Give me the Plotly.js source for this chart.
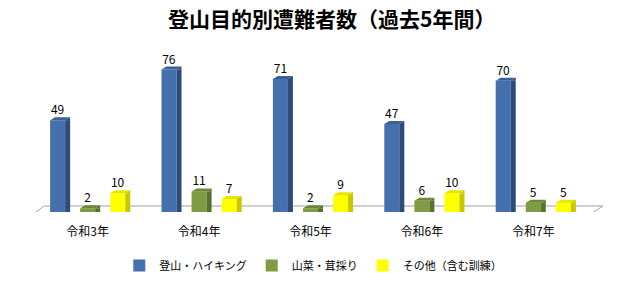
<!DOCTYPE html>
<html><head><meta charset="utf-8">
<script src="https://cdn.plot.ly/plotly-3.0.1.min.js"></script>
<style>html,body{margin:0;padding:0;background:#fff}#c{width:638px;height:281px}</style>
</head><body><div id="c"></div>
<script>
const categories = ["令和3年","令和4年","令和5年","令和6年","令和7年"];
const seriesNames = ["登山・ハイキング","山菜・茸採り","その他（含む訓練）"];
const hiking = [49,76,71,47,70];
const sansai = [2,11,2,6,5];
const other = [10,7,9,10,5];
const titleText = "登山目的別遭難者数（過去5年間）";

const values = [hiking, sansai, other];
const front = ["#4470ad","#7f9c42","#ffff00"];
const side = ["#2c4b78","#5a7030","#c8c800"];
const topc = ["#3a5f96","#6d8838","#e6e600"];
const font = "'Noto Sans CJK JP', sans-serif";

const slot = 0.27, barW = 0.135;
const traces = values.map((v,j)=>({
  type:"bar", x:categories.map((c,i)=>i), y:v, name:seriesNames[j],
  width:barW, offset:(j-1)*slot - barW/2,
  marker:{color:front[j]}, text:v.map(String), textposition:"outside",
  textfont:{family:font,size:12,color:"#000"}, cliponaxis:false, hoverinfo:"none"
}));

const shapes = [];
// floor
shapes.push({type:"path", xref:"paper", yref:"y", ysizemode:"pixel", yanchor:0, layer:"below",
  path:"M0,-3 L1,-3 L1.025,6 L0.022,6 Z", line:{color:"#a0a0a0",width:1}, fillcolor:"#ffffff"});
const dx=5, dy=3, hw=7.5;
values.forEach((v,j)=>{
  v.forEach((val,i)=>{
    const xc = i + (j-1)*slot;
    shapes.push({type:"rect", xref:"x", yref:"y", xsizemode:"pixel", xanchor:xc,
      x0:hw, x1:hw+dx, y0:0, y1:val, fillcolor:side[j], line:{width:0}, layer:"above"});
    shapes.push({type:"path", xref:"x", yref:"y", xsizemode:"pixel", ysizemode:"pixel", xanchor:xc, yanchor:val,
      path:`M${-hw},0 L${hw},0 L${hw+dx},${dy} L${-hw+dx},${dy} Z`, fillcolor:topc[j], line:{width:0}, layer:"above"});
    shapes.push({type:"path", xref:"x", yref:"y", xsizemode:"pixel", ysizemode:"pixel", xanchor:xc, yanchor:val,
      path:`M${hw},0 L${hw+dx},${dy} L${hw+dx},0 Z`, fillcolor:side[j], line:{width:0}, layer:"above"});
  });
});

const layout = {
  width:638, height:281, margin:{l:32,r:49,t:62,b:69,autoexpand:false},
  paper_bgcolor:"#fff", plot_bgcolor:"rgba(0,0,0,0)",
  title:{text:"<b>"+titleText+"</b>", x:0.52, xanchor:"center", y:0.93, yanchor:"middle",
    font:{family:font,size:21,color:"#000"}},
  barmode:"group",
  xaxis:{range:[-0.5,4.5], tickvals:[0,1,2,3,4], ticktext:categories, showgrid:false, zeroline:false,
    showline:false, ticks:"outside", ticklen:9, tickcolor:"rgba(0,0,0,0)",
    tickfont:{family:font,size:12,color:"#000"}, fixedrange:true},
  yaxis:{range:[0,80], visible:false, fixedrange:true},
  showlegend:true,
  legend:{orientation:"h", x:0.505, xanchor:"center", y:-0.26, yanchor:"top",
    font:{family:font,size:11,color:"#000"}, itemwidth:30, traceorder:"normal"},
  shapes:shapes
};
Plotly.newPlot("c", traces, layout, {displayModeBar:false, staticPlot:true});
</script></body></html>
